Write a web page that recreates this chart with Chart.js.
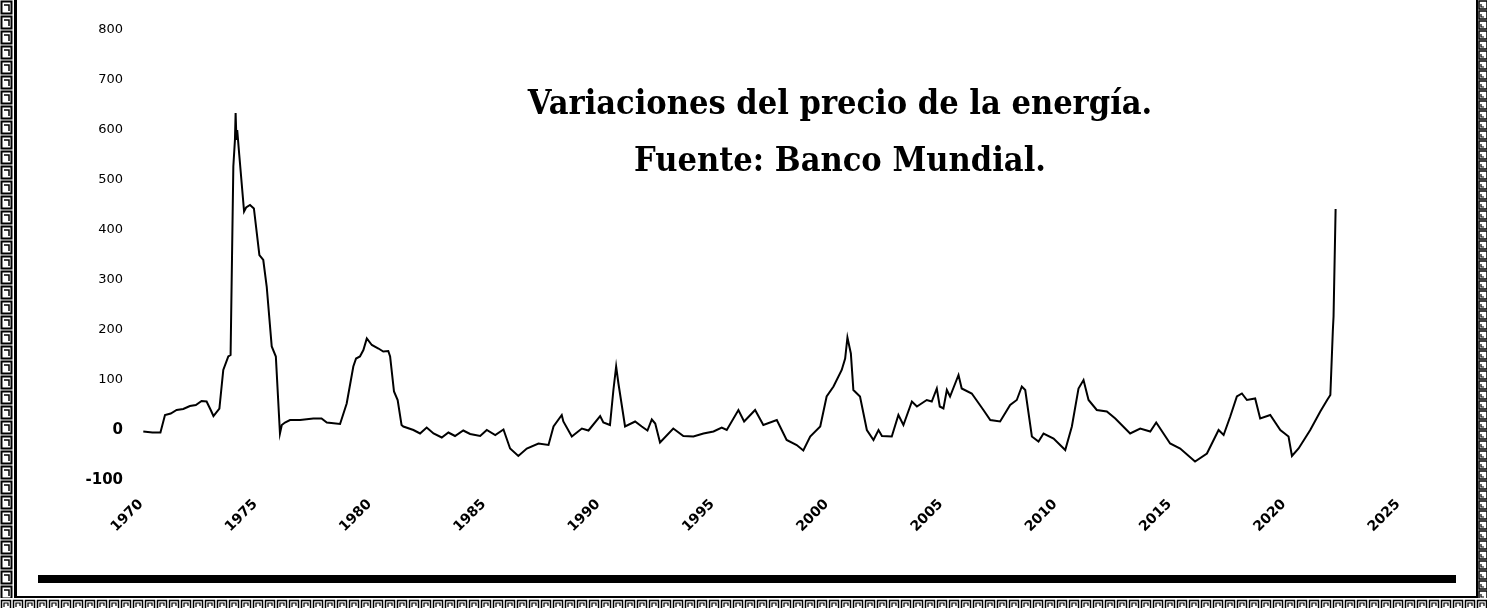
<!DOCTYPE html>
<html>
<head>
<meta charset="utf-8">
<script src="https://cdn.jsdelivr.net/npm/chart.js@4.4.0/dist/chart.umd.min.js"></script>
<style>
  html, body { margin: 0; padding: 0; background: #fff; }
  #wrap { position: relative; width: 1487px; height: 608px; overflow: hidden; background: #fff; }
  #chart { position: absolute; left: 0; top: 0; }
  .keyLeft {
    position: absolute; left: 0; top: 0; width: 13px; height: 598px;
    background-image: url("data:image/svg+xml;utf8,<svg xmlns='http://www.w3.org/2000/svg' width='13' height='15'><rect x='1.5' y='1.5' width='10' height='12' fill='none' stroke='black' stroke-width='2'/><path d='M4 5 H9 V11' fill='none' stroke='black' stroke-width='1.5'/></svg>");
    background-size: 13px 15px;
  }
  .keyRight {
    position: absolute; right: 0; top: 0; width: 9px; height: 598px;
    background-image: url("data:image/svg+xml;utf8,<svg xmlns='http://www.w3.org/2000/svg' width='9' height='10'><rect x='1' y='1' width='8' height='8' fill='none' stroke='black' stroke-width='1.5'/><path d='M3 4 V7 H6' fill='none' stroke='black' stroke-width='1.2'/></svg>");
    background-size: 9px 10px;
  }
  .keyBottom {
    position: absolute; left: 0; top: 599px; width: 1487px; height: 12px;
    background-image: url("data:image/svg+xml;utf8,<svg xmlns='http://www.w3.org/2000/svg' width='12' height='12'><rect x='1.5' y='1.5' width='9' height='9' fill='none' stroke='black' stroke-width='1.5'/><path d='M4 8 V4 H8 V7' fill='none' stroke='black' stroke-width='1.2'/></svg>");
    background-size: 12px 12px;
  }
  .lineLeft { position: absolute; left: 14px; top: 0; width: 3px; height: 597px; background: #000; }
  .lineRight { position: absolute; left: 1476px; top: 0; width: 2px; height: 598px; background: #000; }
  .lineBottom { position: absolute; left: 14px; top: 596px; width: 1464px; height: 2px; background: #000; }
  .rule { position: absolute; left: 38px; top: 575px; width: 1418px; height: 8px; background: #000; }
  #title {
    position: absolute; left: 440px; width: 800px; top: 74px;
    text-align: center; white-space: nowrap;
    font-family: "DejaVu Serif", serif;
    font-weight: bold; font-size: 34px; line-height: 57px; color: #000;
    transform: scaleX(0.9); transform-origin: 50% 50%;
  }
</style>
</head>
<body>
<div id="wrap">
  <canvas id="chart" width="1487" height="608"></canvas>
  <div class="keyLeft"></div>
  <div class="lineLeft"></div>
  <div class="keyRight"></div>
  <div class="lineRight"></div>
  <div class="keyBottom"></div>
  <div class="lineBottom"></div>
  <div class="rule"></div>
  <div id="title">Variaciones del precio de la energía.<br>Fuente: Banco Mundial.</div>
</div>
<script>
// year (decimal) and year-on-year change of the energy price index, %
const years = [
  1970.1, 1970.5, 1970.85, 1971.05, 1971.3, 1971.56, 1971.85, 1972.14, 1972.4, 1972.65,
  1972.87, 1973.05, 1973.17, 1973.43, 1973.6, 1973.82, 1973.92, 1974.04, 1974.11, 1974.14,
  1974.17, 1974.19, 1974.21, 1974.3, 1974.51, 1974.6, 1974.77, 1974.94, 1975.18, 1975.35,
  1975.5, 1975.72, 1975.9, 1976.08, 1976.16, 1976.3, 1976.52, 1976.96, 1977.54, 1977.9,
  1978.13, 1978.71, 1979.0, 1979.29, 1979.41, 1979.58, 1979.73, 1979.88, 1980.1, 1980.39,
  1980.6, 1980.82, 1980.9, 1981.07, 1981.23, 1981.4, 1981.48, 1981.92, 1982.21, 1982.5,
  1982.8, 1983.16, 1983.45, 1983.74, 1984.1, 1984.4, 1984.84, 1985.13, 1985.5, 1985.86,
  1986.15, 1986.51, 1986.88, 1987.39, 1987.83, 1988.05, 1988.41, 1988.48, 1988.85, 1989.29,
  1989.58, 1990.09, 1990.23, 1990.52, 1990.67, 1990.79, 1990.89, 1991.18, 1991.62, 1991.91,
  1992.16, 1992.35, 1992.5, 1992.71, 1993.29, 1993.73, 1994.17, 1994.61, 1995.05, 1995.41,
  1995.63, 1996.14, 1996.39, 1996.87, 1997.23, 1997.82, 1998.25, 1998.69, 1998.98, 1999.28,
  1999.72, 2000.0, 2000.3, 2000.66, 2000.81, 2000.91, 2001.06, 2001.17, 2001.46, 2001.76,
  2002.05, 2002.27, 2002.42, 2002.85, 2003.14, 2003.36, 2003.73, 2003.95, 2004.38, 2004.6,
  2004.82, 2004.95, 2005.11, 2005.26, 2005.4, 2005.77, 2005.91, 2006.35, 2006.86, 2007.16,
  2007.59, 2008.03, 2008.32, 2008.54, 2008.69, 2008.98, 2009.27, 2009.49, 2009.93, 2010.44,
  2010.73, 2011.02, 2011.24, 2011.46, 2011.82, 2012.26, 2012.63, 2013.28, 2013.72, 2014.16,
  2014.42, 2015.03, 2015.47, 2016.12, 2016.64, 2017.15, 2017.37, 2017.66, 2017.95, 2018.17,
  2018.39, 2018.75, 2018.97, 2019.41, 2019.85, 2020.21, 2020.36, 2020.65, 2021.16, 2021.6,
  2021.9, 2022.04, 2022.15, 2022.18, 2022.27
];
const values = [
  -3, -5, -5, 30, 33, 40, 42, 48, 50, 58,
  57, 40, 28, 43, 120, 147, 150, 527, 580, 634,
  590, 580, 600, 550, 437, 445, 450, 443, 350, 340,
  287, 167, 147, -7, 10, 15, 20, 20, 23, 23,
  15, 12, 53, 127, 143, 147, 160, 183, 170, 163,
  157, 158, 147, 77, 60, 10, 7, 0, -7, 5,
  -7, -15, -5, -12, -1, -8, -12, 0, -10, 1,
  -37, -52, -37, -27, -30, 7, 30, 17, -13, 3,
  -1, 28, 15, 10, 80, 127, 93, 7, 17, 7,
  -1, 21, 13, -25, 3, -12, -13, -7, -3, 5,
  0, 40, 17, 40, 10, 20, -20, -30, -41, -13,
  7, 67, 87, 120, 143, 185, 153, 80, 67, 0,
  -20, 0, -12, -13, 30, 10, 57, 47, 60, 57,
  83, 47, 43, 80, 67, 110, 83, 73, 40, 20,
  17, 50, 60, 87, 80, -13, -23, -7, -17, -40,
  7, 83, 100, 60, 40, 37, 23, -7, 3, -3,
  15, -27, -37, -63, -47, 0, -10, 27, 67, 73,
  60, 63, 23, 30, 0, -13, -52, -37, 0, 37,
  60, 70, 200, 227, 442
];
const xTicks = [1970, 1975, 1980, 1985, 1990, 1995, 2000, 2005, 2010, 2015, 2020, 2025];
const yTicks = [-100, 0, 100, 200, 300, 400, 500, 600, 700, 800];

const points = years.map((y, i) => ({ x: y, y: values[i] }));

new Chart(document.getElementById('chart'), {
  type: 'line',
  data: {
    datasets: [{
      label: 'Energía',
      data: points,
      borderColor: '#000',
      borderWidth: 2,
      pointRadius: 0,
      tension: 0,
      fill: false
    }]
  },
  options: {
    responsive: false,
    animation: false,
    layout: { padding: { left: 0, top: 30, right: 89, bottom: 0 } },
    plugins: {
      legend: { display: false },
      tooltip: { enabled: false },
      title: { display: false }
    },
    scales: {
      x: {
        type: 'linear',
        min: xTicks[0],
        max: xTicks[xTicks.length - 1],
        afterBuildTicks: s => { s.ticks = xTicks.map(v => ({ value: v })); },
        afterFit: s => { s.height = 128; },
        grid: { display: false, drawTicks: false },
        border: { display: false },
        ticks: {
          minRotation: 45,
          maxRotation: 45,
          padding: 16,
          color: '#000',
          font: { family: 'DejaVu Sans', size: 14, weight: 'bold' },
          callback: v => String(v)
        }
      },
      y: {
        min: yTicks[0],
        max: yTicks[yTicks.length - 1],
        afterBuildTicks: s => { s.ticks = yTicks.map(v => ({ value: v })); },
        afterFit: s => { s.width = 141; },
        grid: { display: false, drawTicks: false },
        border: { display: false },
        ticks: {
          padding: 18,
          color: '#000',
          font: ctx => (ctx.tick && ctx.tick.value <= 0)
            ? { family: 'DejaVu Sans', size: 15, weight: 'bold' }
            : { family: 'DejaVu Sans', size: 13, weight: 'normal' }
        }
      }
    }
  }
});
</script>
</body>
</html>
